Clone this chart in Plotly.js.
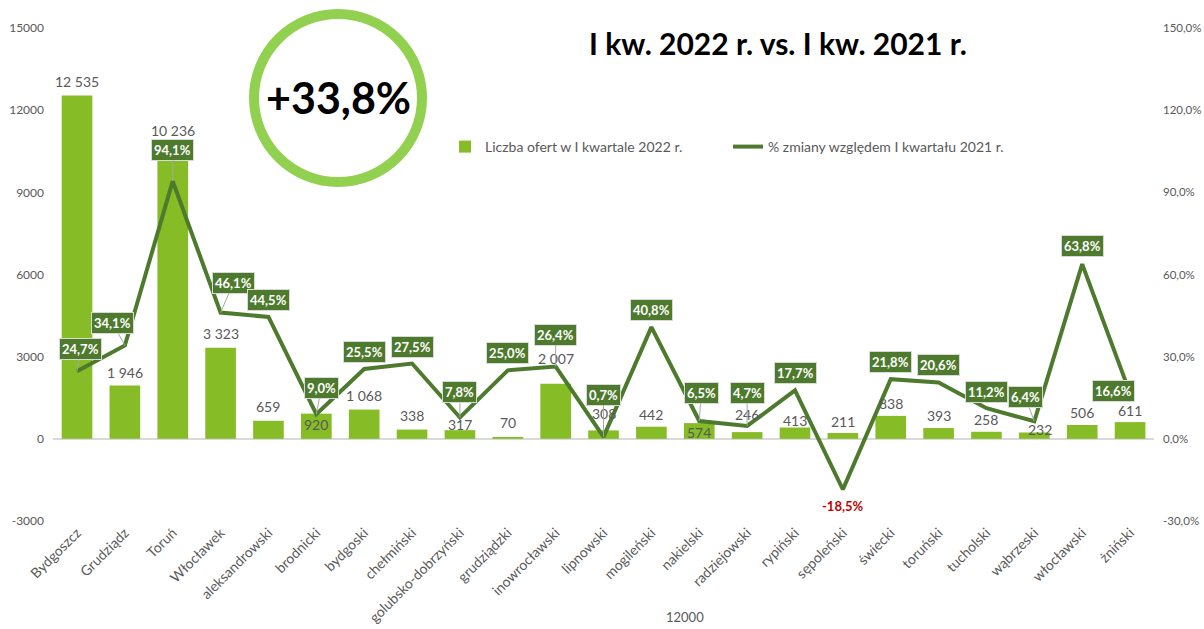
<!DOCTYPE html>
<html>
<head>
<meta charset="utf-8">
<script src="https://cdn.plot.ly/plotly-3.0.1.min.js"></script>
<style>html,body{margin:0;padding:0;background:#fff;}#chart{width:1204px;height:629px;}</style>
</head>
<body>
<div id="chart"></div>
<script>
// ---- data ----
const categories = ['Bydgoszcz','Grudziądz','Toruń','Włocławek','aleksandrowski','brodnicki','bydgoski','chełmiński','golubsko-dobrzyński','grudziądzki','inowrocławski','lipnowski','mogileński','nakielski','radziejowski','rypiński','sępoleński','świecki','toruński','tucholski','wąbrzeski','włocławski','żniński'];
const offers = [12535,1946,10236,3323,659,920,1068,338,317,70,2007,308,442,574,246,413,211,838,393,258,232,506,611];
const changePct = [24.7,34.1,94.1,46.1,44.5,9.0,25.5,27.5,7.8,25.0,26.4,0.7,40.8,6.5,4.7,17.7,-18.5,21.8,20.6,11.2,6.4,63.8,16.6];
const leftTickVals = [-3000,0,3000,6000,9000,12000,15000];
const leftTickText = ['-3000','0','3000','6000','9000','12000','15000'];
const rightTickVals = [-0.3,0,0.3,0.6,0.9,1.2,1.5];
const rightTickText = ['-30,0%','0,0%','30,0%','60,0%','90,0%','120,0%','150,0%'];
const seriesNames = ['Liczba ofert w I kwartale 2022 r.','% zmiany względem I kwartału 2021 r.'];
const chartTitle = 'I kw. 2022 r. vs. I kw. 2021 r.';
const totalChange = '+33,8%';
const xAxisLabel = '12000';

// ---- label placement (pixel nudges, layout only) ----
const pctLabelNudge = [[3,-22],[-12,-22],[0,-31],[13,-30],[0,-17],[5,-26],[0,-17],[0,-17],[0,-25],[0,-17],[0,-32],[0,-42],[0,-17],[2,-28],[0,-33],[0,-17],[0,16],[0,-17],[0,-17],[0,-16],[-9,-24],[0,-18],[-17,-2]];
const barLabelNudge = [[0,-14],[0,-13],[0,-28],[0,-14],[0,-14],[0,11],[0,-14],[0,-14],[0,-6],[0,-14],[0,-25],[0,-17],[0,-12],[0,9],[0,-18],[0,-7],[0,-12],[0,-12],[0,-13],[0,-12],[6,-3],[0,-12],[0,-12]];

// ---- styles ----
const FONT = 'Lato, "Open Sans", sans-serif';
const GREY = '#595959';
const BAR = '#86BC25';
const LINE = '#4E7A2E';
const L = 53, R = 50, T = 28, B = 108, W = 1204, H = 629;
const PW = W - L - R, PH = H - T - B;
const px = v => (v - L) / PW;
const py = v => (H - B - v) / PH;

const fmtThousands = n => String(n).replace(/\B(?=(\d{3})+(?!\d))/g, ' ');
const fmtPct = v => v.toFixed(1).replace('.', ',') + '%';

const traces = [
  {
    type: 'bar', x: categories, y: offers, name: seriesNames[0],
    marker: {color: BAR}, hoverinfo: 'skip'
  },
  {
    type: 'scatter', mode: 'lines', x: categories, y: changePct.map(v => v / 100),
    yaxis: 'y2', name: seriesNames[1],
    line: {color: LINE, width: 4}, hoverinfo: 'skip'
  }
];

const annotations = [];
categories.forEach((c, i) => {
  annotations.push({
    x: c, y: offers[i], xref: 'x', yref: 'y', xanchor: 'center', yanchor: 'middle',
    text: fmtThousands(offers[i]), showarrow: false,
    xshift: barLabelNudge[i][0], yshift: -barLabelNudge[i][1],
    font: {family: FONT, size: 14, color: GREY}
  });
});
categories.forEach((c, i) => {
  const [dx, dy] = pctLabelNudge[i];
  const neg = changePct[i] < 0;
  const a = {
    x: c, y: changePct[i] / 100, xref: 'x', yref: 'y2', xanchor: 'center', yanchor: 'middle',
    text: '<b>' + fmtPct(changePct[i]) + '</b>',
    font: {family: FONT, size: 13, color: neg ? '#C00000' : '#FFFFFF'},
    bgcolor: neg ? 'rgba(0,0,0,0)' : LINE,
    bordercolor: neg ? 'rgba(0,0,0,0)' : '#D9D9D9',
    borderwidth: neg ? 0 : 1, borderpad: 2
  };
  if (Math.hypot(dx, dy) > 20) {
    Object.assign(a, {showarrow: true, ax: dx, ay: dy, axref: 'pixel', ayref: 'pixel',
      arrowhead: 0, arrowwidth: 1, arrowcolor: '#A6A6A6', standoff: 0, startstandoff: 0});
  } else {
    Object.assign(a, {showarrow: false, xshift: dx, yshift: -dy});
  }
  annotations.push(a);
});
annotations.push({
  xref: 'paper', yref: 'paper', x: px(778), y: py(43), xanchor: 'center', yanchor: 'middle',
  text: '<b>' + chartTitle + '</b>',
  showarrow: false, font: {family: FONT, size: 30, color: '#000000'}
});
annotations.push({
  xref: 'paper', yref: 'paper', x: px(338), y: py(98), xanchor: 'center', yanchor: 'middle',
  text: '<b>' + totalChange + '</b>',
  showarrow: false, font: {family: FONT, size: 43, color: '#000000'}
});
annotations.push({
  xref: 'paper', yref: 'paper', x: px(685), y: py(617), xanchor: 'center', yanchor: 'middle',
  text: xAxisLabel,
  showarrow: false, font: {family: FONT, size: 13, color: GREY}
});

const layout = {
  width: W, height: H,
  margin: {l: L, r: R, t: T, b: B},
  paper_bgcolor: '#FFFFFF', plot_bgcolor: '#FFFFFF',
  separators: ', ',
  font: {family: FONT, color: GREY, size: 12},
  bargap: 0.36,
  showlegend: true,
  legend: {
    orientation: 'h', x: px(445), y: py(147), xanchor: 'left', yanchor: 'middle',
    entrywidth: 238, font: {family: FONT, size: 14, color: GREY},
    bgcolor: 'rgba(0,0,0,0)', traceorder: 'normal'
  },
  xaxis: {
    type: 'category', tickangle: -45, showgrid: false, showline: false, zeroline: false,
    ticks: '', tickfont: {family: FONT, size: 14, color: GREY}, automargin: false
  },
  yaxis: {
    range: [-3000, 15000], tickvals: leftTickVals, ticktext: leftTickText,
    showgrid: false, zeroline: true, zerolinecolor: '#D9D9D9', zerolinewidth: 1.5,
    showline: false, ticks: '', ticklabelstandoff: 8,
    tickfont: {family: FONT, size: 12, color: GREY}, automargin: false
  },
  yaxis2: {
    overlaying: 'y', side: 'right', range: [-0.3, 1.5],
    tickvals: rightTickVals, ticktext: rightTickText,
    showgrid: false, zeroline: false, showline: false, ticks: '', ticklabelstandoff: 8,
    tickfont: {family: FONT, size: 11.5, color: GREY}, automargin: false
  },
  shapes: [{
    type: 'circle', xref: 'paper', yref: 'paper',
    x0: px(254), x1: px(422), y0: py(182), y1: py(14),
    line: {color: '#92D050', width: 10}, fillcolor: 'rgba(0,0,0,0)', layer: 'above'
  }],
  annotations: annotations
};

Plotly.newPlot('chart', traces, layout, {displayModeBar: false, staticPlot: true});
</script>
</body>
</html>
